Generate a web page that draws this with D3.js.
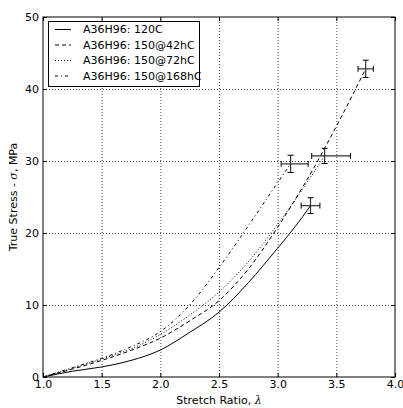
<!DOCTYPE html>
<html><head><meta charset="utf-8">
<script src="https://cdn.jsdelivr.net/npm/d3@7"></script>
<style>body{margin:0;background:#fff}svg{display:block}text{font-family:"DejaVu Sans",sans-serif;font-size:11px;fill:#000}</style>
</head><body><svg id="c" width="403" height="408"></svg>
<script>
const seriesNames = ["A36H96: 120C","A36H96: 150@42hC","A36H96: 150@72hC","A36H96: 150@168hC"];
const lam120 = [1.0,1.25,1.5,1.75,2.0,2.25,2.5,2.75,3.0,3.15,3.28];
const sig120 = [0,0.8,1.4,2.3,3.75,6.2,9.0,13.1,17.9,20.9,23.8];
const lam42 = [1.0,1.25,1.5,1.75,2.0,2.25,2.5,2.75,3.0,3.25,3.5,3.75];
const sig42 = [0,1.1,2.3,3.7,5.4,7.8,10.6,15.0,20.8,27.4,34.8,42.8];
const lam72 = [1.0,1.25,1.5,1.75,2.0,2.25,2.5,2.75,3.0,3.25,3.4];
const sig72 = [0,1.2,2.5,3.9,5.9,8.6,11.8,16.0,21.2,27.0,30.7];
const lam168 = [1.0,1.25,1.5,1.75,2.0,2.25,2.5,2.75,3.0,3.11];
const sig168 = [0,1.3,2.6,4.2,6.3,10.0,15.2,21.0,27.0,29.6];
const errX = [3.28,3.75,3.40,3.11];
const errY = [23.8,42.8,30.7,29.6];
const errXlo = [0.08,0.065,0.11,0.08];
const errXhi = [0.08,0.065,0.22,0.15];
const errYpm = [1.1,1.2,1.05,1.2];
const xTicks = [1.0,1.5,2.0,2.5,3.0,3.5,4.0];
const yTicks = [0,10,20,30,40,50];
const dashes = [null,"4,3","1,2","3,3,1,3"];

const svg = d3.select("#c");
const m = {l:43,r:8,t:17,b:31};
const W = 403, H = 408;
const x = d3.scaleLinear().domain([1,4]).range([m.l, W-m.r]);
const y = d3.scaleLinear().domain([0,50]).range([H-m.b, m.t]);
const series = [[lam120,sig120],[lam42,sig42],[lam72,sig72],[lam168,sig168]];

// grid
const g = svg.append("g");
g.selectAll(".gx").data(xTicks.slice(1,-1)).enter().append("line")
  .attr("x1",d=>x(d)+0.5).attr("x2",d=>x(d)+0.5).attr("y1",y(0)).attr("y2",y(50))
  .attr("stroke","#444").attr("stroke-dasharray","1,2");
g.selectAll(".gy").data(yTicks.slice(1,-1)).enter().append("line")
  .attr("y1",d=>Math.round(y(d))+0.5).attr("y2",d=>Math.round(y(d))+0.5).attr("x1",x(1)).attr("x2",x(4))
  .attr("stroke","#444").attr("stroke-dasharray","1,2");

// curves
const line = d3.line().x(d=>x(d[0])).y(d=>y(d[1])).curve(d3.curveMonotoneX);
series.forEach((s,i)=>{
  const pts = s[0].map((v,j)=>[v,s[1][j]]);
  svg.append("path").attr("d",line(pts)).attr("fill","none").attr("stroke","#000")
    .attr("stroke-width",1).attr("stroke-dasharray",dashes[i]);
});

// error bars
errX.forEach((cx,i)=>{
  const eg = svg.append("g");
  const px = x(cx), py = y(errY[i]);
  const x0 = x(cx-errXlo[i]), x1 = x(cx+errXhi[i]);
  const y0 = y(errY[i]-errYpm[i]), y1 = y(errY[i]+errYpm[i]);
  eg.append("line").attr("x1",x0).attr("x2",x1).attr("y1",py).attr("y2",py).attr("stroke","#333").attr("stroke-width",1.2);
  eg.append("line").attr("x1",px).attr("x2",px).attr("y1",y0).attr("y2",y1).attr("stroke","#333").attr("stroke-width",1.2);
  [x0,x1].forEach(v=>eg.append("line").attr("x1",v).attr("x2",v).attr("y1",py-3).attr("y2",py+3).attr("stroke","#000"));
  [y0,y1].forEach(v=>eg.append("line").attr("x1",px-3).attr("x2",px+3).attr("y1",v).attr("y2",v).attr("stroke","#000"));
});

// axes
const ax = svg.append("g").attr("transform",`translate(0,${y(0)})`)
  .call(d3.axisBottom(x).tickValues(xTicks).tickFormat(d3.format(".1f")).tickSizeInner(-4).tickSizeOuter(0).tickPadding(4));
const axT = svg.append("g").attr("transform",`translate(0,${y(50)})`)
  .call(d3.axisTop(x).tickValues(xTicks).tickFormat("").tickSizeInner(-4).tickSizeOuter(0));
const ay = svg.append("g").attr("transform",`translate(${x(1)},0)`)
  .call(d3.axisLeft(y).tickValues(yTicks).tickFormat(d3.format("d")).tickSizeInner(-4).tickSizeOuter(0).tickPadding(4));
const ayR = svg.append("g").attr("transform",`translate(${x(4)},0)`)
  .call(d3.axisRight(y).tickValues(yTicks).tickFormat("").tickSizeInner(-4).tickSizeOuter(0));
[ax,axT,ay,ayR].forEach(a=>{a.select(".domain").remove();a.selectAll("text").style("font-size","11px").style("font-family","DejaVu Sans").attr("fill","#000");});
ax.selectAll("text").attr("dy","0.6em");
svg.append("rect").attr("x",x(1)).attr("y",y(50)).attr("width",x(4)-x(1)).attr("height",y(0)-y(50))
  .attr("fill","none").attr("stroke","#000").attr("stroke-width",1);

// axis labels
const xl = svg.append("text").attr("x",(x(1)+x(4))/2).attr("y",404).attr("text-anchor","middle");
xl.append("tspan").text("Stretch Ratio, ");
xl.append("tspan").attr("font-family","DejaVu Serif").attr("font-style","italic").text("λ");
const yl = svg.append("text").attr("transform",`translate(17,${(y(0)+y(50))/2}) rotate(-90)`).attr("text-anchor","middle");
yl.append("tspan").text("True Stress - ");
yl.append("tspan").attr("font-family","DejaVu Serif").attr("font-style","italic").text("σ");
yl.append("tspan").text(", MPa");

// legend
const lg = svg.append("g");
lg.append("rect").attr("x",48.5).attr("y",21.5).attr("width",151).attr("height",65).attr("fill","#fff").attr("stroke","#000");
seriesNames.forEach((n,i)=>{
  const ry = 29.5 + i*15.5;
  lg.append("line").attr("x1",55).attr("x2",71).attr("y1",ry).attr("y2",ry).attr("stroke","#000").attr("stroke-dasharray",dashes[i]);
  lg.append("text").attr("x",83).attr("y",ry).attr("dy","0.35em").text(n);
});
</script></body></html>
